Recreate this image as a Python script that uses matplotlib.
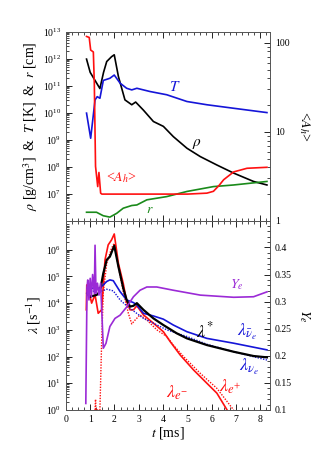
import numpy as np
import matplotlib
matplotlib.use("Agg")
import matplotlib.pyplot as plt
from matplotlib.ticker import LogLocator, MultipleLocator, NullFormatter, FixedLocator, FixedFormatter

plt.rcParams['font.family'] = ['Liberation Serif', 'DejaVu Serif']
plt.rcParams['mathtext.fontset'] = 'stix'

# ---------------- top panel data ----------------
t_rho = [0.85, 1.0, 1.2, 1.4, 1.55, 1.68, 1.88, 1.99, 2.16, 2.43, 2.71, 2.87, 3.19, 3.6, 4.01, 4.42, 4.98, 5.53, 6.21, 6.9, 7.72, 8.27]
log_rho = [11.99, 11.5, 11.2, 10.9, 11.5, 11.9, 12.08, 12.15, 11.35, 10.48, 10.3, 10.4, 10.1, 9.68, 9.5, 9.12, 8.69, 8.38, 8.07, 7.77, 7.46, 7.33]

t_T = [0.85, 1.02, 1.2, 1.29, 1.4, 1.54, 1.81, 1.99, 2.23, 2.5, 2.71, 2.92, 3.46, 4.15, 4.98, 5.8, 6.9, 8.27]
log_T = [9.99, 9.06, 10.48, 10.6, 10.54, 11.2, 11.28, 11.4, 11.1, 10.91, 10.85, 10.91, 10.79, 10.67, 10.42, 10.3, 10.17, 10.01]

t_A = [0.85, 0.96, 1.02, 1.13, 1.17, 1.22, 1.31, 1.36, 1.43, 1.48, 3.0, 5.0, 5.8, 6.07, 6.3, 6.49, 6.9, 7.45, 8.27]
A_h = [118, 115, 83, 79, 35, 4.1, 2.43, 3.5, 2.05, 2.0, 2.0, 2.0, 2.05, 2.15, 2.5, 2.9, 3.55, 3.9, 4.0]

t_r = [0.85, 1.26, 1.54, 1.81, 2.09, 2.36, 2.71, 2.92, 3.33, 4.15, 4.98, 6.07, 6.9, 8.27]
log_r = [6.32, 6.32, 6.19, 6.14, 6.28, 6.47, 6.57, 6.59, 6.78, 6.9, 7.09, 7.27, 7.33, 7.46]

# ---------------- bottom panel data ----------------
t_star = [0.88, 0.99, 1.27, 1.4, 1.54, 1.68, 1.81, 1.99, 2.16, 2.36, 2.5, 2.64, 2.78, 2.92, 3.19, 3.6, 4.01, 4.56, 4.98, 5.8, 6.9, 7.72, 8.27]
log_star = [4.37, 4.24, 4.31, 4.43, 5.12, 5.62, 5.74, 6.15, 5.37, 4.56, 4.12, 3.87, 3.9, 4.0, 3.75, 3.43, 3.18, 2.87, 2.68, 2.43, 2.18, 2.02, 1.97]

t_nubar = [0.88, 1.4, 1.68, 1.81, 1.95, 2.23, 2.5, 2.78, 2.92, 3.19, 3.6, 4.01, 4.42, 4.98, 5.8, 6.9, 8.27]
log_nubar = [4.56, 4.56, 4.81, 4.87, 4.84, 4.43, 4.12, 4.02, 3.93, 3.62, 3.52, 3.4, 3.18, 2.93, 2.68, 2.5, 2.25]

t_nu = [0.88, 1.4, 1.68, 1.95, 2.23, 2.5, 2.78, 3.19, 3.6, 4.15, 4.98, 5.8, 6.9, 8.27]
log_nu = [4.46, 4.43, 4.52, 4.46, 4.12, 3.9, 3.71, 3.43, 3.25, 3.0, 2.75, 2.46, 2.18, 1.87]

t_em = [0.84, 0.86, 0.92, 1.06, 1.2, 1.33, 1.47, 1.61, 1.74, 1.88, 1.99, 2.16, 2.36, 2.5, 2.64, 2.78, 2.92, 3.19, 3.6, 4.01, 4.29, 4.7, 5.25, 5.8, 6.21, 6.63]
log_em = [3.75, 4.68, 4.56, 4.0, 4.31, 3.62, 3.75, 5.62, 6.18, 6.37, 6.59, 5.49, 4.74, 4.06, 3.75, 3.75, 3.9, 3.56, 3.25, 2.93, 2.56, 2.06, 1.5, 1.0, 0.63, 0.0]

t_ep = [1.2, 1.22, 1.24, 1.4, 1.47, 1.54, 1.68, 1.88, 1.99, 2.16, 2.36, 2.57, 2.71, 2.85, 3.05, 3.33, 3.74, 4.15, 4.42, 4.84, 5.53, 6.21, 6.9]
log_ep = [0.0, 0.4, 0.0, 0.0, 2.5, 4.4, 5.49, 6.06, 6.24, 5.37, 4.43, 3.62, 3.22, 3.37, 3.56, 3.37, 3.0, 2.75, 2.43, 2.0, 1.37, 0.81, 0.0]

t_Ye = [0.82, 0.87, 0.9, 0.95, 1.0, 1.05, 1.1, 1.17, 1.2, 1.24, 1.3, 1.36, 1.43, 1.54, 1.65, 1.81, 2.02, 2.23, 2.5, 2.78, 3.05, 3.33, 3.74, 4.42, 5.53, 6.9, 7.72, 8.27]
Ye = [0.112, 0.327, 0.34, 0.303, 0.343, 0.309, 0.35, 0.315, 0.404, 0.315, 0.334, 0.312, 0.334, 0.214, 0.223, 0.254, 0.269, 0.275, 0.29, 0.309, 0.321, 0.327, 0.327, 0.321, 0.312, 0.308, 0.309, 0.318]

A_ticks = [1, 10, 100]
A_ticklabels = ['1', '10', '100']

red = '#ff1010'
blue = '#1515d8'
green = '#1a8a1a'
purple = '#9b2ad6'

fig = plt.figure(figsize=(3.31, 4.68), dpi=100)
L, W = 0.199, 0.617
ax1 = fig.add_axes([L, 0.528, W, 0.404])
ax2 = fig.add_axes([L, 0.124, W, 0.404])

lw = 1.2
dot = (0, (1, 1))

# ---- top ----
ax1.plot(t_rho, 10**np.array(log_rho), color='black', lw=lw)
ax1.plot(t_T, 10**np.array(log_T), color=blue, lw=lw)
ax1.plot(t_r, 10**np.array(log_r), color=green, lw=lw)
ax1.set_yscale('log')
ax1.set_ylim(1e6, 1e13)
ax1.set_xlim(0, 8.4)
ax1r = ax1.twinx()
ax1r.plot(t_A, A_h, color=red, lw=lw)
ax1r.set_yscale('log')
ax1r.set_ylim(1, 133)
ax1r.yaxis.set_major_locator(FixedLocator(A_ticks))
ax1r.yaxis.set_major_formatter(FixedFormatter(A_ticklabels))
ax1r.yaxis.set_minor_locator(LogLocator(base=10, subs=np.arange(2, 10), numticks=20))
ax1r.yaxis.set_minor_formatter(NullFormatter())

ax1.text(4.5, 9e10, r'$T$', color=blue, fontsize=11, ha='center', va='center')
ax1.text(5.4, 10**8.85, r'$\rho$', color='black', fontsize=11, ha='center', va='center')
ax1.text(2.27, 10**7.59, r'<$A_h$>', color=red, fontsize=10, ha='center', va='center')
ax1.text(3.46, 10**6.44, r'$r$', color=green, fontsize=10, ha='center', va='center')

ax1.set_ylabel(r'$\rho$ [g/cm$^3$]  &  $T$ [K]  &  $r$ [cm]', fontsize=10, labelpad=2)
ax1r.set_ylabel(r'<$A_h$>', fontsize=10, rotation=270, labelpad=16)
ax1.yaxis.set_major_locator(FixedLocator([1e7, 1e8, 1e9, 1e10, 1e11, 1e12, 1e13]))
ax1.yaxis.set_minor_locator(LogLocator(base=10, subs=np.arange(2, 10), numticks=20))
ax1.yaxis.set_minor_formatter(NullFormatter())
ax1.tick_params(labelbottom=False)

# ---- bottom ----
ax2.plot(t_em, 10**np.array(log_em), color=red, lw=lw)
ax2.plot(t_ep, 10**np.array(log_ep), color=red, lw=1.0, ls=dot)
ax2.plot(t_nubar, 10**np.array(log_nubar), color=blue, lw=lw)
ax2.plot(t_nu, 10**np.array(log_nu), color=blue, lw=1.0, ls=dot)
ax2.plot(t_star, 10**np.array(log_star), color='black', lw=1.6)
ax2.set_yscale('log')
ax2.set_ylim(1, 1.2e7)
ax2.set_xlim(0, 8.4)
ax2r = ax2.twinx()
ax2r.plot(t_Ye, Ye, color=purple, lw=lw)
ax2r.set_ylim(0.1, 0.449)
ax2r.yaxis.set_minor_locator(MultipleLocator(0.01))
ax2r.set_yticks([0.1, 0.15, 0.2, 0.25, 0.3, 0.35, 0.4])
ax2r.set_yticklabels(['0.1', '0.15', '0.2', '0.25', '0.3', '0.35', '0.4'])

ax2.text(7.46, 10**2.93, r'$\lambda_{\bar{\nu}_e}$', color=blue, fontsize=13, ha='center', va='center')
ax2.text(5.73, 10**2.93, r'$\lambda^{*}$', color='black', fontsize=13, ha='center', va='center')
ax2.text(7.55, 10**1.62, r'$\lambda_{\nu_e}$', color=blue, fontsize=13, ha='center', va='center')
ax2.text(4.58, 10**0.64, r'$\lambda_{e^{-}}$', color=red, fontsize=13, ha='center', va='center')
ax2.text(6.76, 10**0.87, r'$\lambda_{e^{+}}$', color=red, fontsize=13, ha='center', va='center')
ax2.text(7.05, 10**4.68, r'$Y_e$', color=purple, fontsize=10, ha='center', va='center')

ax2.set_ylabel(r'$\lambda$ [s$^{-1}$]', fontsize=10, labelpad=2)
ax2r.set_ylabel(r'$Y_e$', fontsize=10, rotation=270, labelpad=14)
ax2.set_xlabel(r'$t$ [ms]', fontsize=10, labelpad=1)
ax2.yaxis.set_major_locator(FixedLocator([1e0, 1e1, 1e2, 1e3, 1e4, 1e5, 1e6]))
ax2.yaxis.set_minor_locator(LogLocator(base=10, subs=np.arange(2, 10), numticks=20))
ax2.yaxis.set_minor_formatter(NullFormatter())
ax2.set_xticks(range(0, 9))

for a in (ax1, ax2):
    a.xaxis.set_minor_locator(MultipleLocator(0.25))
    a.tick_params(which='both', direction='in', top=True, labelsize=7)
    a.tick_params(which='major', length=4, width=0.6)
    a.tick_params(which='minor', length=2, width=0.5)
for a in (ax1r, ax2r):
    a.tick_params(which='both', direction='in', labelsize=7)
    a.tick_params(which='major', length=4, width=0.6)
    a.tick_params(which='minor', length=2, width=0.5)
for a in (ax1, ax2, ax1r, ax2r):
    for s in a.spines.values():
        s.set_linewidth(0.6)
        s.set_color('#555555')

fig.savefig('out.png', dpi=100)
